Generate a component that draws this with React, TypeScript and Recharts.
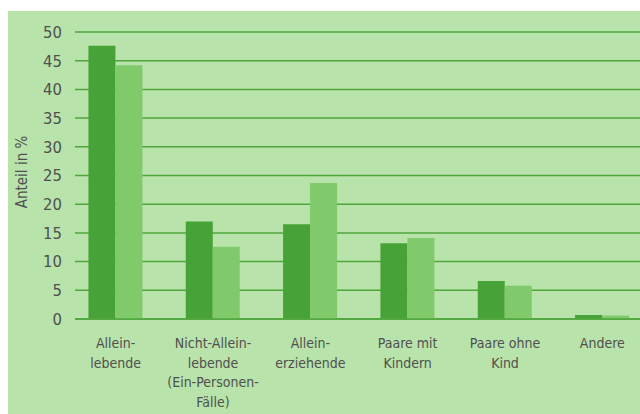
import { BarChart, Bar, XAxis, YAxis, CartesianGrid } from "recharts"

const categories = [
  "Allein-\nlebende",
  "Nicht-Allein-\nlebende\n(Ein-Personen-\nFälle)",
  "Allein-\nerziehende",
  "Paare mit\nKindern",
  "Paare ohne\nKind",
  "Andere"
]
const darkValues = [47.6, 17.0, 16.5, 13.2, 6.6, 0.7]
const lightValues = [44.2, 12.6, 23.7, 14.1, 5.8, 0.6]
const yTicks = [0, 5, 10, 15, 20, 25, 30, 35, 40, 45, 50]

const data = categories.map((name, i) => ({
  name,
  dark: darkValues[i],
  light: lightValues[i]
}))

const font = "'DejaVu Sans Condensed', 'Liberation Sans Narrow', sans-serif"
const textColor = "#505050"
const gridColor = "#4fa63d"

function CategoryTick({ x, y, payload }: any) {
  const lines = String(payload.value).split("\n")
  return (
    <text x={x} y={y} textAnchor="middle" fill={textColor} fontSize={14} fontFamily={font}>
      {lines.map((line, i) => (
        <tspan key={i} x={x} dy={i === 0 ? 27 : 19.5}>
          {line}
        </tspan>
      ))}
    </text>
  )
}

function AxisTitle() {
  return (
    <text
      x={14}
      y={161}
      transform="rotate(-90 14 161)"
      textAnchor="middle"
      dominantBaseline="central"
      fill={textColor}
      fontSize={15}
      fontFamily={font}
    >
      Anteil in %
    </text>
  )
}

export default function App() {
  return (
    <div
      style={{
        position: "absolute",
        left: 8,
        top: 11,
        width: 632,
        height: 403,
        background: "#b8e3aa",
        overflow: "hidden"
      }}
    >
      <BarChart
        width={632}
        height={403}
        data={data}
        margin={{ top: 21, right: 0, bottom: 0, left: 0 }}
        barCategoryGap="22%"
        barGap={0}
      >
        <CartesianGrid vertical={false} stroke={gridColor} strokeWidth={1.5} />
        <XAxis
          dataKey="name"
          interval={0}
          height={95}
          padding={{ left: -8, right: -11 }}
          axisLine={{ stroke: gridColor, strokeWidth: 1.5 }}
          tickLine={false}
          tickSize={0}
          tick={<CategoryTick />}
        />
        <YAxis
          type="number"
          domain={[0, 50]}
          ticks={yTicks}
          interval={0}
          width={67}
          axisLine={false}
          tickLine={false}
          tickSize={0}
          tickMargin={13}
          tick={{ fill: textColor, fontSize: 16.5, fontFamily: font }}
          label={{ content: () => <AxisTitle /> }}
        />
        <Bar dataKey="dark" fill="#47a338" isAnimationActive={false} />
        <Bar dataKey="light" fill="#80ca6c" isAnimationActive={false} />
      </BarChart>
    </div>
  )
}
